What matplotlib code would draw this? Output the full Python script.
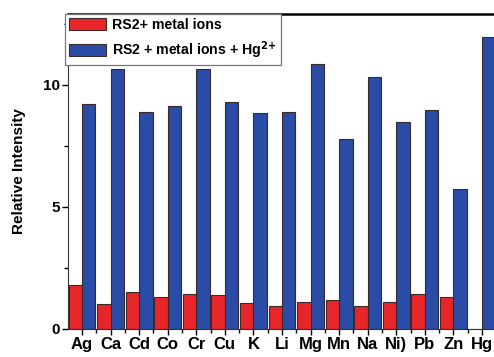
import matplotlib.pyplot as plt
import numpy as np
from matplotlib.ticker import MultipleLocator

plt.rcParams["font.family"] = ["Liberation Sans", "DejaVu Sans"]
plt.rcParams["font.weight"] = "bold"

ions = ["Ag", "Ca", "Cd", "Co", "Cr", "Cu", "K", "Li", "Mg", "Mn", "Na", "Ni)", "Pb", "Zn", "Hg"]
rs2_metal = [1.80, 1.02, 1.52, 1.32, 1.45, 1.38, 1.07, 0.93, 1.09, 1.20, 0.96, 1.12, 1.43, 1.32, 0.0]
rs2_metal_hg = [9.20, 10.66, 8.89, 9.12, 10.66, 9.28, 8.85, 8.89, 10.84, 7.79, 10.33, 8.46, 8.97, 5.74, 11.97]

red = "#e8262a"
blue = "#2a4ca6"
edge = "#3a2a2a"

fig = plt.figure(figsize=(4.94, 3.57), dpi=100)
ax = fig.add_axes([68 / 494, 1 - 329 / 357, 1 - 68 / 494, (329 - 14) / 357])

x = np.arange(len(ions))
w = 0.47
ax.bar(x - w / 2, rs2_metal, w, color=red, edgecolor=edge, linewidth=0.8,
       label="RS2+ metal ions")
ax.bar(x + w / 2, rs2_metal_hg, w, color=blue, edgecolor=edge, linewidth=0.8,
       label="RS2 + metal ions + Hg$^{\\mathbf{2{+}}}$")

ax.set_xlim(-0.49, 14.42)
ax.set_ylim(0, 12.9)
ax.set_xticks(x)
ax.set_xticklabels(ions, fontsize=12, fontweight="bold")
ax.xaxis.set_minor_locator(MultipleLocator(0.5))
ax.yaxis.set_major_locator(MultipleLocator(5))
ax.yaxis.set_minor_locator(MultipleLocator(2.5))
ax.tick_params(axis="both", which="major", length=4, width=1, pad=2)
ax.tick_params(axis="x", which="major", labelsize=12)
ax.tick_params(axis="y", which="major", labelsize=11)
ax.tick_params(axis="both", which="minor", length=3, width=1)
for lab in ax.get_yticklabels():
    lab.set_fontweight("bold")
ax.set_ylabel("Relative Intensity", fontsize=11, fontweight="bold", labelpad=12)

ax.spines["right"].set_visible(False)
ax.spines["top"].set_linewidth(1.8)
ax.spines["left"].set_color("#333333")
ax.spines["bottom"].set_color("#333333")

leg = ax.legend(loc="upper left", bbox_to_anchor=(-0.007, 1.0), fancybox=False,
                framealpha=1, edgecolor="#777777", prop={"weight": "bold", "size": 10.2},
                handlelength=2.6, handleheight=0.9, borderpad=0.3, labelspacing=0.5,
                handletextpad=0.4, borderaxespad=0)
leg.get_frame().set_linewidth(0.9)

fig.savefig("out.png", dpi=100)
